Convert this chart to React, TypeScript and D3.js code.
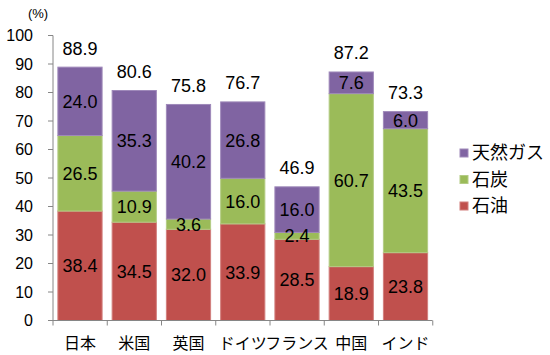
import React from "react";
import * as d3 from "d3";

const categories = ["日本", "米国", "英国", "ドイツ", "フランス", "中国", "インド"];
const oil = [38.4, 34.5, 32.0, 33.9, 28.5, 18.9, 23.8];
const coal = [26.5, 10.9, 3.6, 16.0, 2.4, 60.7, 43.5];
const gas = [24.0, 35.3, 40.2, 26.8, 16.0, 7.6, 6.0];
const totals = [88.9, 80.6, 75.8, 76.7, 46.9, 87.2, 73.3];
const seriesNames = ["石油", "石炭", "天然ガス"];
const yTicks = [0, 10, 20, 30, 40, 50, 60, 70, 80, 90, 100];

const colors = ["#C0504D", "#9BBB59", "#8064A2"];
const strokes = ["#D27F7D", "#B4CC85", "#9F89BA"];

export default function App() {
  const W = 550, H = 355;
  const x0 = 53, x1 = 432.5, yBottom = 320.5, yTop = 35.5;
  const x = d3.scaleBand().domain(categories).range([x0, x1]).paddingInner(0.185).paddingOuter(0.09);
  const y = d3.scaleLinear().domain([0, 100]).range([yBottom, yTop]);
  const rows = categories.map((c, i) => ({ cat: c, oil: oil[i], coal: coal[i], gas: gas[i] }));
  const stack = d3.stack<any>().keys(["oil", "coal", "gas"])(rows);
  const font = "'Liberation Sans', Arial, 'Noto Sans CJK JP', sans-serif";
  const jfont = "'Noto Sans CJK JP', 'Liberation Sans', sans-serif";
  const bw = x.step();
  const boundaries = d3.range(categories.length + 1).map((i) => x0 + i * bw);

  return (
    <div style={{ position: "absolute", left: 0, top: 0 }}>
      <svg width={W} height={H} style={{ display: "block", background: "#fff" }}>
        <text x={38} y={18} textAnchor="middle" fontFamily={font} fontSize={13} fill="#000">(%)</text>
        {/* y axis */}
        <line x1={x0} x2={x0} y1={yTop} y2={yBottom} stroke="#868686" strokeWidth={1} />
        {yTicks.map((t) => (
          <g key={t}>
            <line x1={x0 - 5} x2={x0} y1={y(t)} y2={y(t)} stroke="#868686" />
            <text x={33} y={y(t)} dy="0.35em" textAnchor="end" fontFamily={font} fontSize={16} fill="#000">{t}</text>
          </g>
        ))}
        {/* bars */}
        {stack.map((s, si) => (
          <g key={si}>
            {s.map((d, i) => (
              <rect key={i} x={x(categories[i])!} width={x.bandwidth()} y={y(d[1])} height={y(d[0]) - y(d[1])}
                fill={colors[si]} stroke={strokes[si]} strokeWidth={1} />
            ))}
          </g>
        ))}
        {/* segment labels */}
        {stack.map((s, si) => (
          <g key={"l" + si}>
            {s.map((d, i) => (
              <text key={i} x={x(categories[i])! + x.bandwidth() / 2} y={y((d[0] + d[1]) / 2)} dy="0.36em"
                textAnchor="middle" fontFamily={font} fontSize={18} fill="#000">
                {(d[1] - d[0]).toFixed(1)}
              </text>
            ))}
          </g>
        ))}
        {/* totals */}
        {totals.map((t, i) => (
          <text key={i} x={x(categories[i])! + x.bandwidth() / 2} y={y(t) - 19} dy="0.36em" textAnchor="middle"
            fontFamily={font} fontSize={18} fill="#000">{t.toFixed(1)}</text>
        ))}
        {/* x axis */}
        <line x1={x0} x2={x1} y1={yBottom} y2={yBottom} stroke="#868686" />
        {boundaries.map((b, i) => (
          <line key={i} x1={b} x2={b} y1={yBottom} y2={yBottom + 5} stroke="#868686" />
        ))}
        {categories.map((c) => (
          <text key={c} x={x(c)! + x.bandwidth() / 2} y={343} dy="0.36em" textAnchor="middle" fontFamily={jfont}
            fontSize={16} fill="#000">{c}</text>
        ))}
        {/* legend */}
        {[2, 1, 0].map((si, k) => (
          <g key={si} transform={`translate(460, ${153 + k * 26.5})`}>
            <rect x={0} y={-4} width={8} height={8} fill={colors[si]} stroke={strokes[si]} />
            <text x={12} y={0} dy="0.36em" fontFamily={jfont} fontSize={18} fill="#000">{seriesNames[si]}</text>
          </g>
        ))}
      </svg>
    </div>
  );
}
